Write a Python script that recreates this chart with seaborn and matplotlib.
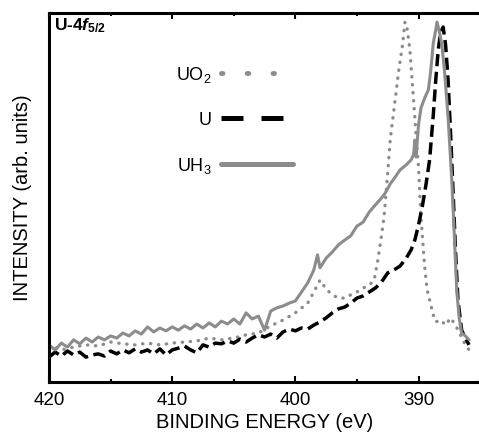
import numpy as np
import pandas as pd
import seaborn as sns
import matplotlib
matplotlib.use("Agg")
from matplotlib import pyplot as plt
from matplotlib.lines import Line2D

# binding energy (eV) and intensity (arb. units)
be_uh3 = [420, 419.5, 419, 418.5, 418, 417.5, 417, 416.5, 416, 415.5, 415, 414.5, 414, 413.5,
          413, 412.5, 412, 411.5, 411, 410.5, 410, 409.5, 409, 408.5, 408, 407.5, 407, 406.5,
          406, 405.5, 405, 404.5, 404, 403.5, 403, 402.5, 402, 401.5, 401, 400.5, 400, 399.5,
          399, 398.5, 398.2, 398, 397.5, 397, 396.5, 396, 395.5, 395, 394.5, 394, 393.5, 393,
          392.7, 392.3, 391.9, 391.5, 391, 390.6, 390.4, 390.3, 390.2, 390, 389.8, 389.5, 389.2,
          389, 388.8, 388.6, 388.5, 388.3, 388.1, 387.9, 387.6, 387.3, 387.1, 386.9, 386.7,
          386.5, 386.2, 385.9]
int_uh3 = [10.3, 8.9, 10.8, 9.7, 11.7, 10.6, 12.2, 11.1, 12.5, 11.7, 12.8, 12.2, 13.6, 12.8,
           14.2, 13.3, 15.3, 13.9, 15.0, 14.2, 15.3, 14.4, 15.6, 14.7, 16.1, 15.0, 16.4, 15.3,
           16.9, 16.1, 17.5, 16.1, 19.2, 17.5, 18.3, 14.4, 19.7, 20.6, 21.1, 21.9, 22.5, 25.0,
           27.5, 31.1, 35.3, 31.7, 34.4, 36.1, 38.1, 39.4, 40.6, 43.3, 44.4, 47.2, 49.2, 51.1,
           52.5, 55.0, 56.9, 58.9, 60.3, 61.7, 63.1, 67.2, 62.5, 71.4, 76.1, 78.9, 81.1,
           86.7, 94.2, 97.8, 100.0, 97.2, 93.6, 86.7, 73.6, 56.1, 41.4, 25.6, 17.8,
           13.6, 12.8, 11.7]

be_u = [420, 419.5, 419, 418.5, 418, 417.5, 417, 416.5, 416, 415.5, 415, 414.5, 414, 413.5,
        413, 412.5, 412, 411.5, 411, 410.5, 410, 409.5, 409, 408.5, 408, 407.5, 407, 406.5,
        406, 405.5, 405, 404.5, 404, 403.5, 403, 402.5, 402, 401.5, 401, 400.5, 400, 399.5,
        399, 398.5, 398, 397.5, 397, 396.5, 396, 395.5, 395, 394.5, 394, 393.5, 393, 392.5,
        392, 391.5, 391, 390.6, 390.3, 390, 389.7, 389.4, 389.1, 388.8, 388.6, 388.4, 388.2,
        388.0, 387.8, 387.6, 387.4, 387.2, 387.0, 386.8, 386.5, 386.2, 385.9]
int_u = [6.9, 8.3, 7.2, 8.6, 7.5, 8.3, 6.9, 7.5, 7.8, 7.2, 8.6, 7.8, 8.9, 8.1,
         9.2, 8.3, 8.9, 7.8, 9.2, 7.5, 8.9, 9.4, 10.0, 8.9, 8.1, 10.3, 9.7, 10.8,
         10.6, 11.4, 10.8, 11.9, 11.1, 12.2, 13.1, 12.5, 13.3, 12.2, 13.9, 14.7, 14.2, 15.0,
         14.7, 15.8, 16.7, 17.8, 19.2, 20.3, 20.8, 21.9, 23.3, 23.9, 25.0, 26.1, 27.8, 30.3,
         31.1, 32.2, 34.4, 36.7, 39.4, 43.6, 48.6, 54.7, 61.7, 74.2, 83.9, 92.2, 97.2,
         98.6, 93.6, 83.9, 69.2, 53.3, 36.7, 22.8, 14.4, 12.2, 10.3]

be_uo2 = [420, 419, 418, 417, 416, 415, 414, 413, 412, 411, 410, 409, 408, 407, 406, 405,
          404, 403, 402, 401, 400, 399, 398.5, 398, 397.5, 397, 396.5, 396, 395.5, 395,
          394.5, 394, 393.6, 393.3, 393.0, 392.8, 392.5, 392.3, 391.9, 391.6, 391.3, 391.1,
          390.9, 390.7, 390.4, 390.2, 390.0, 389.8, 389.5, 389.3, 389.1, 388.8, 388.6, 388.2,
          387.8, 387.4, 387.0, 386.6, 386.2, 385.9]
int_uo2 = [10.3, 8.9, 9.7, 10.3, 10.0, 11.1, 10.6, 10.3, 10.8, 10.3, 10.8, 11.1, 11.4, 12.2,
           11.7, 12.2, 13.1, 13.6, 15.6, 17.2, 19.2, 21.9, 25.0, 28.3, 25.8, 24.2, 23.3, 23.3,
           24.2, 25.0, 26.1, 26.9, 28.3, 33.9, 40.8, 45.8, 58.1, 67.2, 78.3, 86.7, 93.6, 100.0,
           97.8, 92.2, 78.3, 68.6, 59.7, 45.8, 31.9, 25.6, 22.8, 18.6, 16.7, 17.2,
           15.8, 17.8, 15.8, 13.1, 10.3, 8.9]

gray = "#8c8c8c"

sns.set_style("ticks", {"axes.edgecolor": "black", "xtick.color": "black",
                        "text.color": "black", "axes.labelcolor": "black"})
plt.rcParams["font.family"] = ["Liberation Sans", "DejaVu Sans"]
plt.rcParams["mathtext.fontset"] = "custom"
plt.rcParams["mathtext.rm"] = "Liberation Sans"
plt.rcParams["mathtext.it"] = "Liberation Sans:italic:bold"
plt.rcParams["mathtext.bf"] = "Liberation Sans:bold"

fig = plt.figure(figsize=(4.79, 4.36), dpi=100)
ax = fig.add_axes([0.1023, 0.1239, 0.9, 0.8463])

df_uh3 = pd.DataFrame({"be": be_uh3, "intensity": int_uh3})
df_u = pd.DataFrame({"be": be_u, "intensity": int_u})
df_uo2 = pd.DataFrame({"be": be_uo2, "intensity": int_uo2})

sns.lineplot(data=df_uo2, x="be", y="intensity", ax=ax, color=gray, lw=2.4,
             linestyle=(0, (0.1, 2.3)), dash_capstyle="round", estimator=None, sort=False)
sns.lineplot(data=df_u, x="be", y="intensity", ax=ax, color="black", lw=2.5,
             linestyle=(0, (3.5, 1.6)), estimator=None, sort=False)
sns.lineplot(data=df_uh3, x="be", y="intensity", ax=ax, color=gray, lw=2.2,
             linestyle="-", estimator=None, sort=False)

ax.set_xlim(420, 385.9)
ax.set_ylim(0, 102.5)
ax.set_xticks([420, 410, 400, 390])
ax.set_xticks([415, 405, 395, 385], minor=True)
ax.set_yticks([])
ax.tick_params(axis="x", which="both", direction="in", top=True, labelsize=13.5, pad=7,
               colors="black")
ax.tick_params(axis="x", which="major", length=4.5, width=1.5)
ax.tick_params(axis="x", which="minor", length=2.5, width=1.5)
for side in ["left", "bottom", "top"]:
    ax.spines[side].set_linewidth(2.2)
    ax.spines[side].set_color("black")
ax.spines["right"].set_visible(False)

ax.set_xlabel("BINDING ENERGY (eV)", fontsize=14.5, labelpad=3, color="black")
ax.set_ylabel("INTENSITY (arb. units)", fontsize=14.5, labelpad=12, color="black")

ax.text(0.012, 0.99, r"U-4$\mathit{f}_{\mathbf{5/2}}$", transform=ax.transAxes,
        ha="left", va="top", fontsize=12.5, fontweight="bold", color="black")

handles = [
    Line2D([], [], color=gray, lw=3.5, linestyle=(0, (0.3, 5.0)), dash_capstyle="round"),
    Line2D([], [], color="black", lw=3.6, linestyle=(0, (4.4, 3.6))),
    Line2D([], [], color=gray, lw=3.6, linestyle="-", solid_capstyle="round"),
]
labels = ["UO$_2$", "U", "UH$_3$"]
ax.legend(handles, labels, loc="upper right", bbox_to_anchor=(0.567, 0.86),
          frameon=False, markerfirst=False, handlelength=4.0, handletextpad=0.55,
          labelspacing=1.5, fontsize=13, borderpad=0, borderaxespad=0, labelcolor="black")

fig.savefig("out.png", dpi=100)
